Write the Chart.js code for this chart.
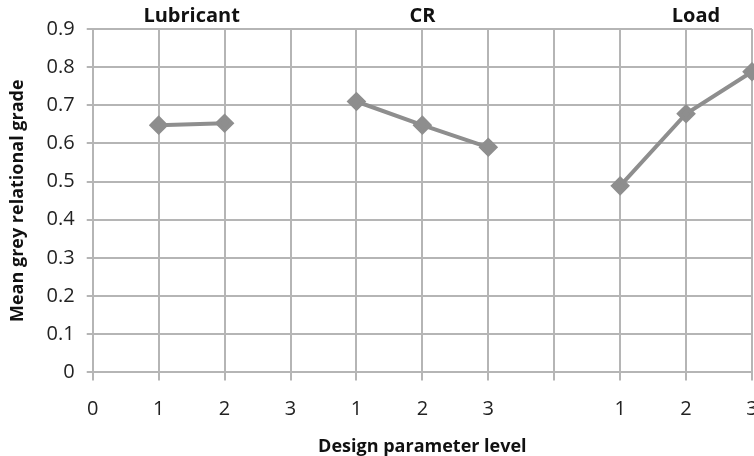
<!DOCTYPE html>
<html>
<head>
<meta charset="utf-8">
<script src="https://cdn.jsdelivr.net/npm/chart.js@4/dist/chart.umd.min.js"></script>
<style>
html,body{margin:0;padding:0;background:#fff;overflow:hidden;}
#wrap{position:relative;width:780px;height:458px;}
</style>
</head>
<body>
<div id="wrap"><canvas id="c"></canvas></div>
<script>
const categories = ['0','1','2','3','1','2','3','','1','2','3'];
const lubricant = [null,0.648,0.653,null,null,null,null,null,null,null,null];
const cr        = [null,null,null,null,0.710,0.648,0.590,null,null,null,null];
const load      = [null,null,null,null,null,null,null,null,0.489,0.678,0.788];
const groupNames = ['Lubricant','CR','Load'];
const groupCenters = [1.5,5,9.15];
const yTicks = [0,0.1,0.2,0.3,0.4,0.5,0.6,0.7,0.8,0.9];

const FONT = "'Open Sans', 'Liberation Sans', sans-serif";
const lineColor = '#8e8e8e';
const gridColor = '#b5b5b5';

function ds(data){
  return {data, borderColor:lineColor, backgroundColor:lineColor, borderWidth:4,
    pointStyle:'rectRot', pointRadius:7, pointHoverRadius:7, spanGaps:false, tension:0};
}

const groupTitles = {
  id:'groupTitles',
  afterDraw(chart){
    const ctx = chart.ctx, xs = chart.scales.x;
    ctx.save();
    ctx.font = "bold 20px " + FONT;
    ctx.fillStyle = '#111';
    ctx.textAlign = 'center';
    ctx.textBaseline = 'middle';
    groupNames.forEach((n,i)=>{
      ctx.fillText(n, xs.getPixelForValue(groupCenters[i]), 16);
    });
    ctx.restore();
  }
};

new Chart(document.getElementById('c'), {
  type:'line',
  data:{labels:categories, datasets:[ds(lubricant),ds(cr),ds(load)]},
  options:{
    responsive:true, maintainAspectRatio:false, animation:false,
    layout:{padding:{left:7,right:28,top:29,bottom:0}},
    plugins:{legend:{display:false},tooltip:{enabled:false}},
    scales:{
      x:{
        type:'category', offset:false,
        grid:{color:gridColor, lineWidth:2, tickLength:8, drawTicks:true},
        border:{color:gridColor, width:2},
        ticks:{font:{family:FONT,size:20}, color:'#222', padding:17, autoSkip:false, maxRotation:0},
        title:{display:true, text:'Design parameter level', font:{family:FONT,size:18,weight:'bold'}, color:'#111', padding:{top:-2,bottom:0}}
      },
      y:{
        min:0, max:0.9,
        afterBuildTicks(s){ s.ticks = yTicks.map(v=>({value:v})); },
        grid:{color:gridColor, lineWidth:2, tickLength:6},
        border:{color:gridColor, width:2},
        ticks:{font:{family:FONT,size:20}, color:'#222', padding:12,
          callback:(v)=> v===0 ? '0' : v.toFixed(1)},
        title:{display:true, text:'Mean grey relational grade', font:{family:FONT,size:18,weight:'bold'}, color:'#111', padding:{top:0,bottom:6}}
      }
    }
  },
  plugins:[groupTitles]
});
</script>
</body>
</html>
